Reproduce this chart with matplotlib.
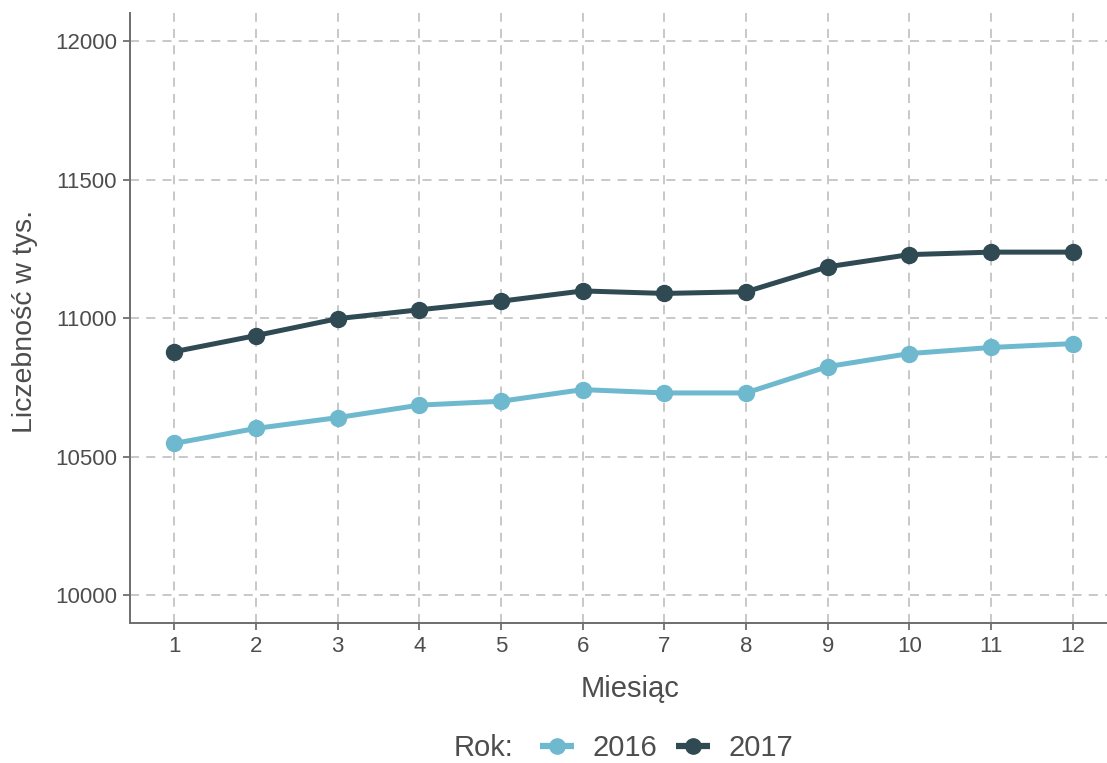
import matplotlib
matplotlib.use("Agg")
import matplotlib.pyplot as plt
from matplotlib.lines import Line2D

plt.rcParams['font.family'] = ['Liberation Sans', 'DejaVu Sans']

months = list(range(1, 13))
y2016 = [10548, 10602, 10641, 10686, 10700, 10742, 10730, 10730, 10825, 10872, 10894, 10908]
y2017 = [10879, 10937, 10998, 11030, 11061, 11098, 11089, 11095, 11185, 11229, 11238, 11238]
years = ["2016", "2017"]
colors = ["#6fb9cf", "#2f4a52"]
yticks = [10000, 10500, 11000, 11500, 12000]

fig = plt.figure(figsize=(11.07, 7.63), dpi=100)
W, H = 1107, 763
# panel: left 129.5px, top 13px, bottom 623px, right runs past the edge
ax = fig.add_axes([129.5/W, (H-623)/H, (1117.5-129.5)/W, (623-13.2)/H])

for vals, c in zip([y2016, y2017], colors):
    ax.plot(months, vals, color=c, lw=3.6, marker='o', ms=11.5, zorder=3)

ax.set_xlim(0.45, 12.55)
ax.set_ylim(9900, 12100)
ax.set_xticks(months)
ax.set_yticks(yticks)
ax.grid(True, linestyle=(0, (5, 4)), color='#c4c4c4', lw=1.3)
ax.set_axisbelow(True)
for s in ['top', 'right']:
    ax.spines[s].set_visible(False)
for s in ['left', 'bottom']:
    ax.spines[s].set_color('#6e6e6e')
    ax.spines[s].set_linewidth(1.4)
ax.tick_params(colors='#6e6e6e', length=5, width=1.3, labelsize=16,
               labelcolor='#4d4d4d', pad=4)

fig.text(630/W, 1 - 697/H, "Miesiąc", fontsize=21, color='#4d4d4d',
         ha='center', va='baseline')
fig.text(25/W, 1 - 321/H, "Liczebność w tys.", rotation=90, fontsize=20.5,
         color='#4d4d4d', ha='center', va='center')

fig.text(513/W, 1 - 756/H, "Rok:", fontsize=21, color='#4d4d4d',
         ha='right', va='baseline')
handles = [Line2D([0], [0], color=c, lw=4.5, marker='o', ms=11, solid_capstyle='butt')
           for c in colors]
fig.legend(handles, years, loc='center left', bbox_to_anchor=(540/W, 1 - 748/H),
           ncol=2, frameon=False, fontsize=21, handlelength=1.15,
           borderpad=0, borderaxespad=0,
           columnspacing=0.65, handletextpad=0.65, labelcolor='#4d4d4d')

fig.savefig("out.png", dpi=100, facecolor='white')
